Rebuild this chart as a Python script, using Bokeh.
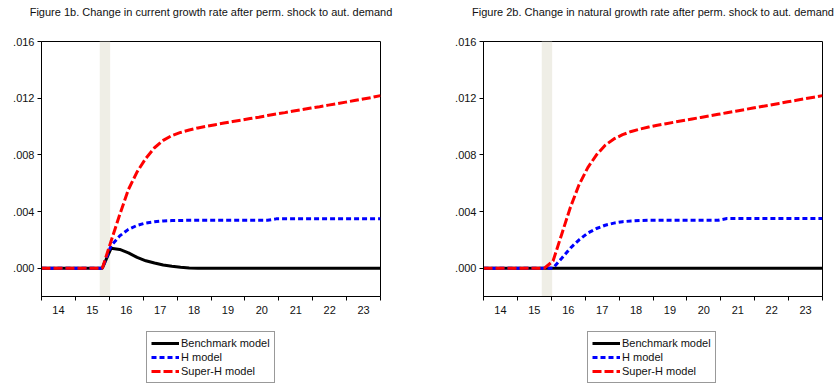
from bokeh.plotting import figure
from bokeh.models import Range1d, FixedTicker, BoxAnnotation, Legend, LegendItem, LinearAxis
from bokeh.layouts import row, column
from bokeh.embed import file_html
from bokeh.resources import INLINE

# Quarterly sample 2014Q1 - 2023Q4
quarters = [f"{y}Q{q}" for y in range(2014, 2024) for q in range(1, 5)]
year_labels = ["14", "15", "16", "17", "18", "19", "20", "21", "22", "23"]
y_ticks = [0.0, 0.004, 0.008, 0.012, 0.016]
y_tick_labels = [".000", ".004", ".008", ".012", ".016"]
series_names = ["Benchmark model", "H model", "Super-H model"]

# Shaded shock period (2015Q4), in observation units
shade_start = 6.7
shade_end = 7.9

# Figure 1b: change in current growth rate
benchmark_current = [
    0, 0, 0, 0, 0, 0, 0, 0,
    0.00140, 0.00132, 0.00108, 0.00076, 0.00052, 0.00036, 0.00022, 0.00013,
    0.00006, 0.00002, 0, 0, 0, 0, 0, 0,
    0, 0, 0, 0, 0, 0, 0, 0,
    0, 0, 0, 0, 0, 0, 0, 0,
]
h_current = [
    0, 0, 0, 0, 0, 0, 0, 0,
    0.00158, 0.00228, 0.00274, 0.00302, 0.00319, 0.00328, 0.00333, 0.00336,
    0.00337, 0.00338, 0.00338, 0.00338, 0.00338, 0.00338, 0.00338, 0.00338,
    0.00338, 0.00338, 0.00338, 0.00348, 0.00348, 0.00348, 0.00348, 0.00348,
    0.00348, 0.00348, 0.00348, 0.00348, 0.00348, 0.00348, 0.00348, 0.00348,
]
superh_current = [
    0, 0, 0, 0, 0, 0, 0, 0,
    0.00190, 0.00378, 0.00555, 0.00680, 0.00775, 0.00850, 0.00902, 0.00936,
    0.00958, 0.00975, 0.00990, 0.01002, 0.01013, 0.01024, 0.01035, 0.01045,
    0.01056, 0.01066, 0.01077, 0.01088, 0.01098, 0.01109, 0.01119, 0.01130,
    0.01140, 0.01151, 0.01161, 0.01172, 0.01183, 0.01194, 0.01205, 0.01218,
]

# Figure 2b: change in natural growth rate
benchmark_natural = [0.0] * 40
h_natural = [
    0, 0, 0, 0, 0, 0, 0, 0,
    0, 0.00070, 0.00142, 0.00200, 0.00248, 0.00280, 0.00303, 0.00318,
    0.00328, 0.00333, 0.00336, 0.00338, 0.00338, 0.00338, 0.00338, 0.00338,
    0.00338, 0.00338, 0.00338, 0.00338, 0.00350, 0.00350, 0.00350, 0.00350,
    0.00350, 0.00350, 0.00350, 0.00350, 0.00350, 0.00350, 0.00350, 0.00350,
]
superh_natural = [
    0, 0, 0, 0, 0, 0, 0, 0,
    0.00050, 0.00240, 0.00430, 0.00590, 0.00710, 0.00800, 0.00868, 0.00912,
    0.00942, 0.00965, 0.00982, 0.00996, 0.01009, 0.01020, 0.01031, 0.01042,
    0.01053, 0.01064, 0.01075, 0.01086, 0.01097, 0.01108, 0.01119, 0.01130,
    0.01141, 0.01152, 0.01163, 0.01174, 0.01185, 0.01196, 0.01207, 0.01218,
]

FONT = "Liberation Sans"
TEXT_COLOR = "#111111"
PANEL_W = 420
FRAME_H = 255
TOP_H = 41
AXIS_H = 25
LEGEND_H = 62

# line styles shared by the chart and its legend
STYLES = [
    dict(line_color="black", line_width=3),
    dict(line_color="#0000FF", line_width=3, line_dash="5 3"),
    dict(line_color="#FF0000", line_width=3, line_dash="9 3"),
]


def chart(title, series, border_left, border_right):
    n = len(quarters)
    x = list(range(n))
    p = figure(
        width=PANEL_W, height=TOP_H + FRAME_H + AXIS_H,
        min_border_left=border_left, min_border_right=border_right,
        min_border_top=TOP_H, min_border_bottom=AXIS_H,
        x_range=Range1d(0, n - 1), y_range=Range1d(-0.002, 0.016),
        output_backend="svg", toolbar_location=None,
        background_fill_color="white", border_fill_color="white",
    )
    p.xgrid.visible = False
    p.ygrid.visible = False
    p.outline_line_color = "black"
    p.outline_line_width = 1

    # chart heading, carried by a bare axis above the frame
    head = LinearAxis(axis_label=title, ticker=FixedTicker(ticks=[]),
                      axis_line_color=None, major_tick_out=0, major_tick_in=0,
                      minor_tick_out=0, minor_tick_in=0,
                      major_label_text_font_size="0px",
                      axis_label_standoff=24,
                      axis_label_text_font=FONT, axis_label_text_font_size="11px",
                      axis_label_text_font_style="normal",
                      axis_label_text_color=TEXT_COLOR)
    p.add_layout(head, "above")

    # shaded quarter of the shock
    p.add_layout(BoxAnnotation(left=shade_start, right=shade_end,
                               fill_color="#EFEEE6", fill_alpha=1.0,
                               line_color=None, level="underlay"))

    # x axis: tick marks on year boundaries, labels centred within each year
    n_years = len(year_labels)
    step = (n - 1) / n_years
    bounds = [k * step for k in range(n_years + 1)]
    centres = [(k + 0.5) * step for k in range(n_years)]
    xaxis = p.below[0]
    xaxis.ticker = FixedTicker(ticks=centres, minor_ticks=bounds)
    xaxis.major_label_overrides = {c: lab for c, lab in zip(centres, year_labels)}
    xaxis.major_tick_line_color = None
    xaxis.major_tick_out = 4
    xaxis.major_tick_in = 0
    xaxis.minor_tick_line_color = "black"
    xaxis.minor_tick_out = 4
    xaxis.minor_tick_in = 0
    xaxis.major_label_standoff = 5

    yaxis = p.left[0]
    yaxis.ticker = FixedTicker(ticks=y_ticks)
    yaxis.major_label_overrides = {t: lab for t, lab in zip(y_ticks, y_tick_labels)}
    yaxis.major_tick_out = 4
    yaxis.major_tick_in = 0
    yaxis.minor_tick_line_color = None
    yaxis.major_label_standoff = 3

    for ax in (xaxis, yaxis):
        ax.axis_line_color = "black"
        ax.major_label_text_font = FONT
        ax.major_label_text_font_size = "11px"
        ax.major_label_text_color = TEXT_COLOR

    for ys, style in zip(series, STYLES):
        p.line(x, ys, **style)
    return p


def legend_strip(series, border_left, border_right, box_offset):
    # the strip's frame lines up with the chart's frame; its y range keeps
    # the series out of view so only the legend samples show
    n = len(quarters)
    x = list(range(n))
    f = figure(width=PANEL_W, height=LEGEND_H,
               min_border_left=border_left, min_border_right=border_right,
               min_border_top=0, min_border_bottom=0,
               x_range=Range1d(0, n - 1), y_range=Range1d(1, 2),
               output_backend="svg", toolbar_location=None,
               background_fill_color="white", border_fill_color="white")
    f.axis.visible = False
    f.grid.visible = False
    f.outline_line_color = None
    renderers = [f.line(x, ys, **style) for ys, style in zip(series, STYLES)]
    legend = Legend(
        items=[LegendItem(label=name, renderers=[r])
               for name, r in zip(series_names, renderers)],
        location=(box_offset, 0), orientation="vertical",
        label_text_font=FONT, label_text_font_size="11px",
        label_text_color=TEXT_COLOR,
        label_height=14, glyph_height=14, glyph_width=28,
        label_standoff=2, spacing=0, padding=4, margin=0,
        border_line_color="#333333", border_line_width=1,
        background_fill_color="white", background_fill_alpha=1.0,
    )
    f.add_layout(legend, "center")
    return f


def panel(title, series, border_left, border_right, box_offset):
    return column(
        chart(title, series, border_left, border_right),
        legend_strip(series, border_left, border_right, box_offset),
        spacing=0,
    )


left = panel("Figure 1b. Change in current growth rate after perm. shock to aut. demand",
             [benchmark_current, h_current, superh_current], 41, 40, 105)
right = panel("Figure 2b. Change in natural growth rate after perm. shock to aut. demand",
              [benchmark_natural, h_natural, superh_natural], 63, 18, 104)

layout = row(left, right, spacing=0)
open("out.html", "w").write(file_html(layout, INLINE))
